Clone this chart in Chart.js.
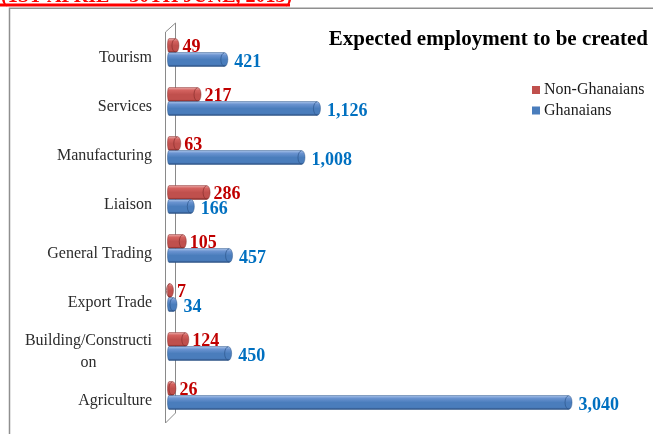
<!DOCTYPE html>
<html>
<head>
<meta charset="utf-8">
<title>Expected employment to be created</title>
<script src="https://cdn.jsdelivr.net/npm/chart.js@4.4.1/dist/chart.umd.min.js"></script>
<style>
  html, body { margin: 0; padding: 0; background: #fff; }
  canvas { display: block; }
</style>
</head>
<body>
<canvas id="jobsChart" width="653" height="434"></canvas>
<script>
const categories = ["Tourism", "Services", "Manufacturing", "Liaison", "General Trading", "Export Trade", "Building/Construction", "Agriculture"];
const nonGhanaians = [49, 217, 63, 286, 105, 7, 124, 26];
const ghanaians = [421, 1126, 1008, 166, 457, 34, 450, 3040];
const seriesNames = ["Non-Ghanaians", "Ghanaians"];
const chartTitle = "Expected employment to be created";
const periodHeading = "(1ST APRIL \u2013 30TH JUNE, 2013)";

const SERIF = "'Liberation Serif', 'Times New Roman', serif";

// cylinder shading for each series
const palette = [
  { light: "#e8a9a7", hi: "#d4625f", base: "#c0504d", dark: "#7a2523", edge: "#862d2b", label: "#c00000" },
  { light: "#a9c3e9", hi: "#6a93d0", base: "#4a7dbc", dark: "#284a7c", edge: "#2b548a", label: "#0070c0" }
];

function wrapLabel(c, text, maxWidth) {
  const lines = [];
  let line = "";
  for (const word of text.split(" ")) {
    const test = line ? line + " " + word : word;
    if (c.measureText(test).width <= maxWidth) { line = test; continue; }
    if (line) lines.push(line);
    line = "";
    for (const ch of word) {
      if (c.measureText(line + ch).width > maxWidth && line) { lines.push(line); line = ""; }
      line += ch;
    }
  }
  if (line) lines.push(line);
  return lines;
}

function drawCylinder(c, x0, x1, yc, h, col) {
  const top = yc - h / 2, ry = h / 2, rx = 3.5;
  const g = c.createLinearGradient(0, top, 0, top + h);
  g.addColorStop(0, col.light);
  g.addColorStop(0.2, col.hi);
  g.addColorStop(0.5, col.base);
  g.addColorStop(0.85, col.base);
  g.addColorStop(1, col.dark);

  c.save();
  c.fillStyle = g;
  c.beginPath();
  c.moveTo(x0, top);
  c.lineTo(x1, top);
  c.ellipse(x1, yc, rx, ry, 0, -Math.PI / 2, Math.PI / 2);
  c.lineTo(x0, top + h);
  c.ellipse(x0, yc, 1.5, ry, 0, Math.PI / 2, Math.PI * 1.5);
  c.closePath();
  c.fill();
  c.strokeStyle = col.edge;
  c.globalAlpha = 0.6;
  c.lineWidth = 0.8;
  c.stroke();

  // end face seam
  c.globalAlpha = 0.85;
  c.beginPath();
  c.ellipse(x1, yc, rx, ry - 0.4, 0, Math.PI / 2, Math.PI * 1.5);
  c.stroke();
  c.restore();
}

const framePlugin = {
  id: "frame",
  beforeDraw(chart) {
    const c = chart.ctx;
    c.save();
    c.fillStyle = "#fff";
    c.fillRect(0, 0, chart.width, chart.height);

    // page heading, mostly cut off above the frame
    c.font = "bold 20px " + SERIF;
    c.fillStyle = "#ff0000";
    c.textBaseline = "alphabetic";
    c.fillText(periodHeading, 1, 1.5);
    const w = c.measureText(periodHeading).width;
    c.fillRect(0, 3.5, Math.min(w, 290), 3);

    c.strokeStyle = "#8f8f8f";
    c.lineWidth = 1.5;
    c.beginPath();
    c.moveTo(9.5, chart.height);
    c.lineTo(9.5, 8.2);
    c.lineTo(chart.width, 8.2);
    c.stroke();
    c.restore();
  }
};

const wallPlugin = {
  id: "wall",
  beforeDatasetsDraw(chart) {
    const c = chart.ctx;
    const { top, bottom } = chart.chartArea;
    const x0 = chart.scales.x.getPixelForValue(0);
    const fx = x0 - 3.5, bx = x0 + 6.5;
    c.save();
    c.strokeStyle = "#8a8a8a";
    c.lineWidth = 1;
    c.beginPath();
    c.moveTo(bx, bottom - 7);
    c.lineTo(bx, top - 5);
    c.lineTo(fx, top + 4);
    c.lineTo(fx, bottom + 3);
    c.lineTo(bx, bottom - 7);
    c.stroke();
    c.restore();
  }
};

const cylinderPlugin = {
  id: "cylinders",
  beforeDatasetDraw() {
    return false;
  },
  afterDatasetsDraw(chart) {
    const c = chart.ctx;
    chart.data.datasets.forEach((ds, i) => {
      chart.getDatasetMeta(i).data.forEach(bar => {
        const { x, y, base, height } = bar.getProps(["x", "y", "base", "height"], true);
        drawCylinder(c, base, x, y, height, palette[i]);
      });
    });
  }
};

const textPlugin = {
  id: "texts",
  afterDraw(chart) {
    const c = chart.ctx;
    const yScale = chart.scales.y;
    const x0 = chart.scales.x.getPixelForValue(0);
    c.save();

    // category labels, wrapped and centred as a block against the axis
    c.font = "16px " + SERIF;
    c.fillStyle = "#2b2b2b";
    c.textBaseline = "middle";
    c.textAlign = "center";
    const lineH = 22;
    categories.forEach((name, i) => {
      const lines = wrapLabel(c, name, 130);
      const blockW = Math.max(...lines.map(l => c.measureText(l).width));
      const cx = x0 - 17 - blockW / 2;
      const cy = yScale.getPixelForTick(i) + 5.5 - (lines.length - 1) * lineH / 2;
      lines.forEach((l, k) => c.fillText(l, cx, cy + k * lineH));
    });

    // value labels
    c.font = "bold 18px " + SERIF;
    c.textAlign = "left";
    chart.data.datasets.forEach((ds, i) => {
      c.fillStyle = palette[i].label;
      chart.getDatasetMeta(i).data.forEach((bar, j) => {
        const { x, y } = bar.getProps(["x", "y"], true);
        const dx = i === 0 ? 7 : 10;
        const dy = i === 0 ? 2 : 3;
        c.fillText(ds.data[j].toLocaleString("en-US"), x + dx, y + dy);
      });
    });

    // title
    c.font = "bold 21px " + SERIF;
    c.fillStyle = "#000";
    c.textAlign = "right";
    c.textBaseline = "alphabetic";
    c.fillText(chartTitle, 648, 45);

    // legend
    c.font = "16px " + SERIF;
    c.textAlign = "left";
    c.textBaseline = "middle";
    seriesNames.forEach((name, i) => {
      const ly = 90 + i * 20.5;
      c.fillStyle = palette[i].base;
      c.fillRect(532, ly - 4, 8, 8);
      c.fillStyle = "#1a1a1a";
      c.fillText(name, 544, ly);
    });
    c.restore();
  }
};

const ctx = document.getElementById("jobsChart").getContext("2d");
new Chart(ctx, {
  type: "bar",
  data: {
    labels: categories,
    datasets: [
      { label: seriesNames[0], data: nonGhanaians, backgroundColor: palette[0].base, barThickness: 14 },
      { label: seriesNames[1], data: ghanaians, backgroundColor: palette[1].base, barThickness: 14 }
    ]
  },
  options: {
    indexAxis: "y",
    responsive: false,
    animation: false,
    layout: { padding: { left: 169, right: 24, top: 28, bottom: 14 } },
    scales: {
      x: { display: false, min: 0, max: 3500 },
      y: { display: false }
    },
    plugins: {
      legend: { display: false },
      title: { display: false },
      tooltip: { enabled: false }
    }
  },
  plugins: [framePlugin, wallPlugin, cylinderPlugin, textPlugin]
});
</script>
</body>
</html>
